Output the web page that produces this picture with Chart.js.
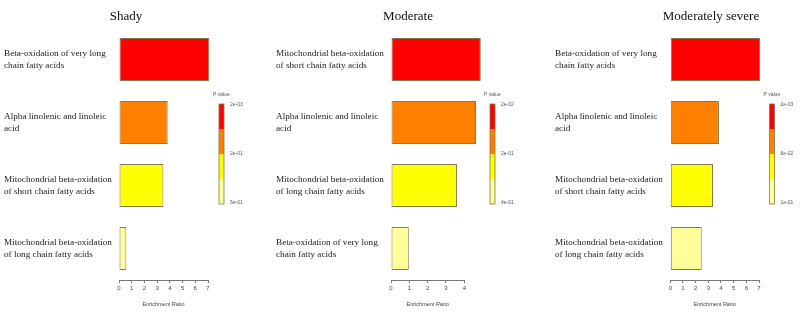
<!DOCTYPE html>
<html>
<head>
<meta charset="utf-8">
<title>Enrichment ratio by severity</title>
<script src="https://cdn.jsdelivr.net/npm/chart.js@4.4.1/dist/chart.umd.min.js"></script>
<style>
  body { margin: 0; background: #fff; }
  .panel { position: absolute; top: 0; height: 317px; }
</style>
</head>
<body>
<div class="panel" style="left:0;width:265px"><canvas id="shady"></canvas></div>
<div class="panel" style="left:265px;width:265px"><canvas id="moderate"></canvas></div>
<div class="panel" style="left:530px;width:270px"><canvas id="severe"></canvas></div>

<script>
// pathway names, one array of lines per bar
const shadyPathways = [
  ['Beta-oxidation of very long', 'chain fatty acids'],
  ['Alpha linolenic and linoleic', 'acid'],
  ['Mitochondrial beta-oxidation', 'of short chain fatty acids'],
  ['Mitochondrial beta-oxidation', 'of long chain fatty acids']
];
const moderatePathways = [
  ['Mitochondrial beta-oxidation', 'of short chain fatty acids'],
  ['Alpha linolenic and linoleic', 'acid'],
  ['Mitochondrial beta-oxidation', 'of long chain fatty acids'],
  ['Beta-oxidation of very long', 'chain fatty acids']
];
const severePathways = [
  ['Beta-oxidation of very long', 'chain fatty acids'],
  ['Alpha linolenic and linoleic', 'acid'],
  ['Mitochondrial beta-oxidation', 'of short chain fatty acids'],
  ['Mitochondrial beta-oxidation', 'of long chain fatty acids']
];

// enrichment ratios
const shadyRatios = [7.1, 3.83, 3.49, 0.58];
const moderateRatios = [4.9, 4.64, 3.6, 0.97];
const severeRatios = [7.08, 3.84, 3.37, 2.48];

// p value legend labels (top, middle, bottom)
const shadyPLabels = ['2e-03', '2e-01', '5e-01'];
const moderatePLabels = ['2e-02', '2e-01', '4e-01'];
const severePLabels = ['2e-03', '6e-02', '1e-01'];

const barColors = ['#ff0000', '#ff8000', '#ffff00', '#ffff99'];
const edgeColor = '#85794d';

// panel title drawn above the bars
const panelTitle = {
  id: 'panelTitle',
  afterDraw(chart, args, opts) {
    const ctx = chart.ctx;
    ctx.save();
    ctx.fillStyle = '#111';
    ctx.font = '13px "Liberation Serif"';
    ctx.textAlign = 'center';
    ctx.textBaseline = 'middle';
    ctx.fillText(opts.text, opts.x, 17);
    ctx.restore();
  }
};

// stepped p value colour key to the right of the bars
const pValueKey = {
  id: 'pValueKey',
  afterDraw(chart, args, opts) {
    const ctx = chart.ctx;
    const top = 104, h = 100, w = 5;
    const seg = h / barColors.length;
    ctx.save();
    barColors.forEach((c, i) => {
      ctx.fillStyle = c;
      ctx.fillRect(opts.x, top + i * seg, w, seg);
    });
    ctx.strokeStyle = edgeColor;
    ctx.lineWidth = 0.8;
    ctx.strokeRect(opts.x, top, w, h);

    ctx.fillStyle = '#555';
    ctx.font = '5px "Liberation Sans"';
    ctx.textBaseline = 'middle';
    ctx.textAlign = 'left';
    ctx.fillText('P value', opts.x - 6, top - 9);
    const ys = [top + 1, top + seg * 2, top + h - 1];
    opts.labels.forEach((t, i) => ctx.fillText(t, opts.x + 11, ys[i]));
    ctx.restore();
  }
};

function makePanel(id, title, pathways, ratios, pLabels, xMax, pad, yWidth, titleX, keyX) {
  return new Chart(document.getElementById(id), {
    type: 'bar',
    data: {
      labels: pathways,
      datasets: [{
        data: ratios,
        backgroundColor: barColors,
        borderColor: edgeColor,
        borderWidth: 1,
        borderSkipped: false,
        barPercentage: 0.68,
        categoryPercentage: 1,
        clip: false
      }]
    },
    options: {
      indexAxis: 'y',
      responsive: true,
      maintainAspectRatio: false,
      animation: false,
      layout: { padding: { left: pad[0], right: pad[1], top: 28, bottom: 0 } },
      plugins: {
        legend: { display: false },
        tooltip: { enabled: false },
        panelTitle: { text: title, x: titleX },
        pValueKey: { labels: pLabels, x: keyX }
      },
      scales: {
        y: {
          grid: { display: false },
          border: { display: false },
          ticks: {
            crossAlign: 'far',
            padding: 0,
            color: '#222',
            font: { family: 'Liberation Serif', size: 9.2, lineHeight: 1.3 }
          },
          afterFit: s => { s.width = yWidth; }
        },
        x: {
          min: 0,
          max: xMax,
          grid: { drawOnChartArea: false, tickLength: 3, color: '#777' },
          border: { color: '#777' },
          ticks: {
            stepSize: 1,
            maxRotation: 0,
            padding: 2,
            color: '#444',
            font: { family: 'Liberation Sans', size: 6 }
          },
          title: {
            display: true,
            text: 'Enrichment Ratio',
            color: '#444',
            font: { family: 'Liberation Sans', size: 5.5 },
            padding: { top: 0, bottom: 9 }
          },
          afterFit: s => { s.height = 37; }
        }
      }
    },
    plugins: [panelTitle, pValueKey]
  });
}

makePanel('shady', 'Shady', shadyPathways, shadyRatios, shadyPLabels, 7, [4, 57], 115, 126, 219);
makePanel('moderate', 'Moderate', moderatePathways, moderateRatios, moderatePLabels, 4, [11, 65.7], 115, 143, 225);
makePanel('severe', 'Moderately severe', severePathways, severeRatios, severePLabels, 7, [25, 41], 115.3, 181, 239.5);
</script>
</body>
</html>
